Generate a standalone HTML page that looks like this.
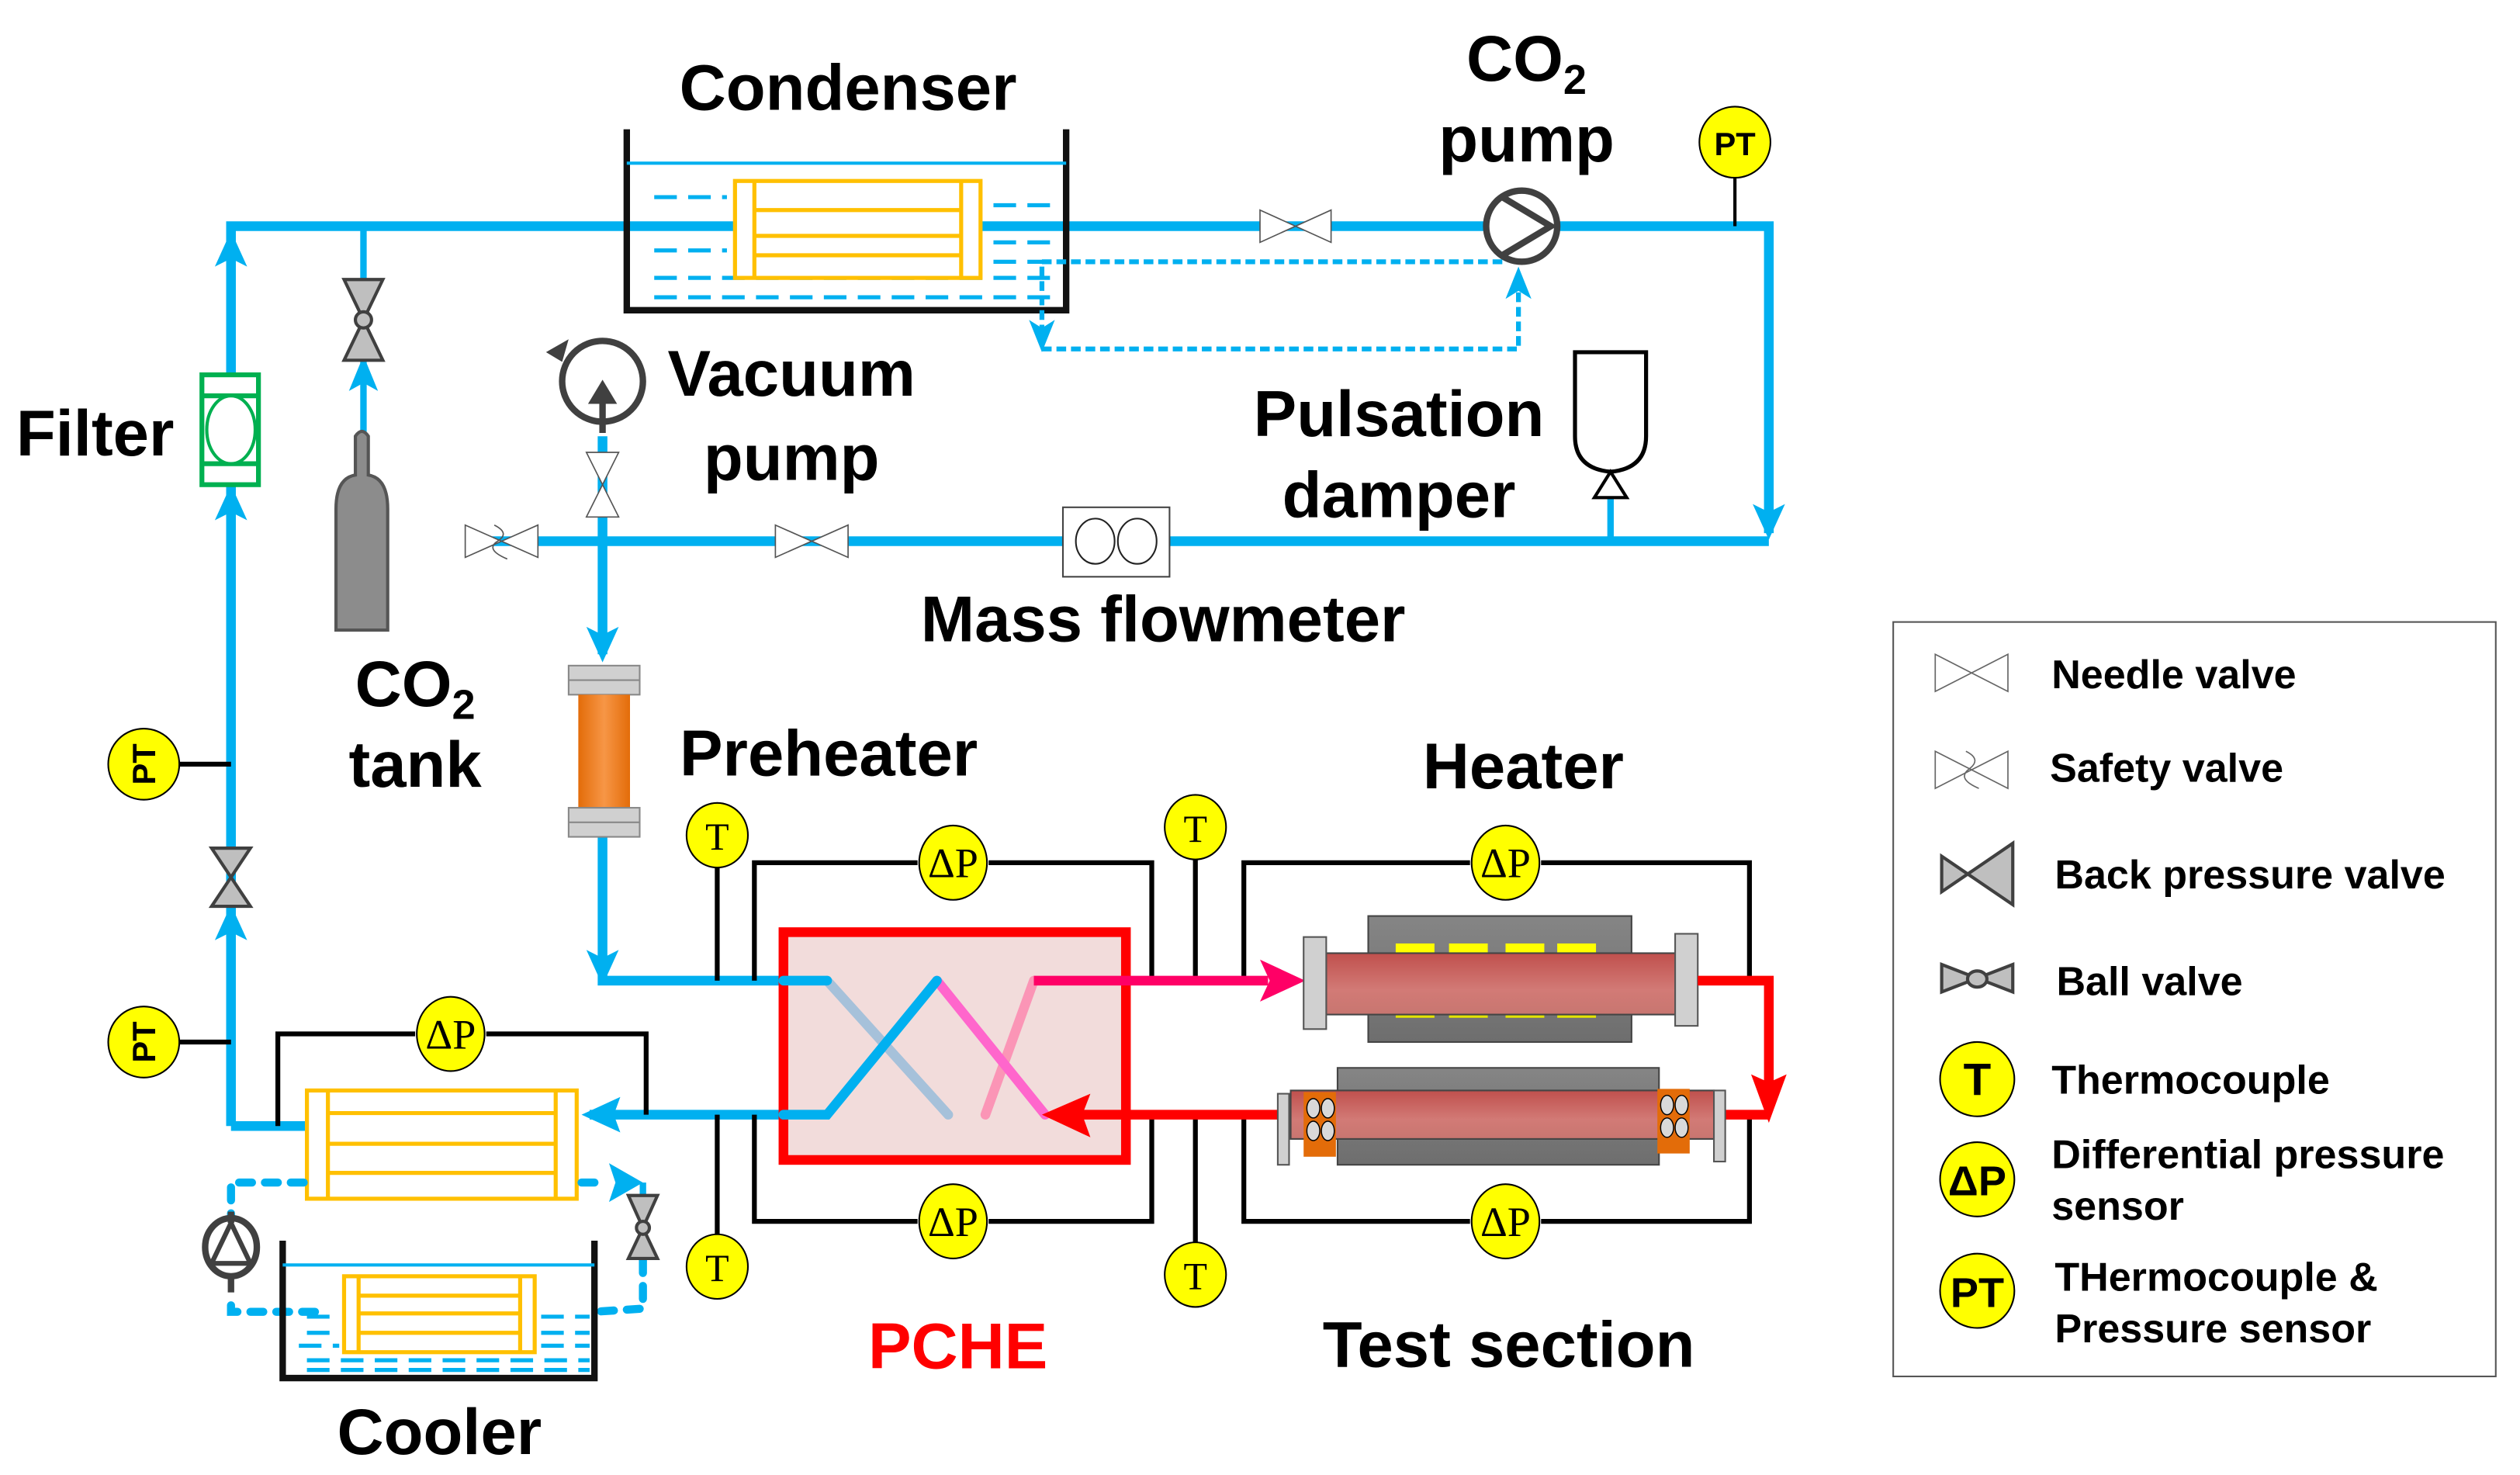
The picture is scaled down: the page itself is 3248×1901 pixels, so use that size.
<!DOCTYPE html>
<html><head><meta charset="utf-8"><style>
html,body{margin:0;padding:0;background:#fff}
svg{display:block}
text{font-family:"Liberation Sans",Arial,sans-serif;font-weight:bold;fill:#000}
.s{font-family:"Liberation Serif",serif;font-weight:normal}
</style></head><body>
<svg width="3248" height="1901" viewBox="0 0 1560 913" xmlns="http://www.w3.org/2000/svg">
<defs>
<linearGradient id="tube" x1="0" y1="0" x2="0" y2="1"><stop offset="0" stop-color="#c0504d"/><stop offset="0.6" stop-color="#d27a76"/><stop offset="1" stop-color="#c87670"/></linearGradient>
<linearGradient id="gray" x1="0" y1="0" x2="0" y2="1"><stop offset="0" stop-color="#858585"/><stop offset="1" stop-color="#6e6e6e"/></linearGradient>
<linearGradient id="orng" x1="0" y1="0" x2="1" y2="0"><stop offset="0" stop-color="#e36c09"/><stop offset="0.5" stop-color="#f79646"/><stop offset="1" stop-color="#e36c09"/></linearGradient>
</defs>

<g stroke="#00b0f0" stroke-width="6" fill="none">
<polyline points="143,697 143,140 455,140"/>
<polyline points="607,140 920,140"/>
<polyline points="965,140 1095,140 1095,330"/>
<line x1="1095" y1="335" x2="290" y2="335"/>
<line x1="373" y1="270" x2="373" y2="405"/>
<polyline points="373,518 373,607 485,607"/>
<polyline points="485,690 365,690"/>
<polyline points="190,697 143,697"/>
<line x1="997" y1="335" x2="997" y2="300" stroke-width="4"/>
<line x1="225" y1="140" x2="225" y2="175" stroke-width="4"/>
<line x1="225" y1="215" x2="225" y2="270" stroke-width="4"/>
</g>
<g fill="#00b0f0">
<path d="M143,143 L133,165 L143,160 L153,165 Z"/>
<path d="M143,300 L133,322 L143,317 L153,322 Z"/>
<path d="M143,560 L133,582 L143,577 L153,582 Z"/>
<path d="M225,220 L216,242 L225,237 L234,242 Z"/>
<path d="M1095,334 L1085,312 L1095,317 L1105,312 Z"/>
<path d="M373,410 L363,388 L373,393 L383,388 Z"/>
<path d="M373,610 L363,588 L373,593 L383,588 Z"/>
<path d="M360,690 L384,679 L380,690 L384,701 Z"/>
</g>

<polyline points="388,80 388,192 660,192 660,80" fill="none" stroke="#111" stroke-width="4"/>
<line x1="388" y1="101" x2="660" y2="101" stroke="#00b0f0" stroke-width="2"/>
<g stroke="#00b0f0" stroke-width="2.5" stroke-dasharray="14,7">
<line x1="405" y1="122" x2="450" y2="122"/><line x1="615" y1="127" x2="655" y2="127"/>
<line x1="405" y1="155" x2="450" y2="155"/><line x1="615" y1="150" x2="655" y2="150"/>
<line x1="615" y1="162" x2="655" y2="162"/>
<line x1="405" y1="172" x2="655" y2="172"/><line x1="405" y1="184" x2="655" y2="184"/>
</g>
<g stroke="#ffc000" stroke-width="2.5" fill="#fff">
<rect x="455" y="112" width="152" height="60"/>
<line x1="467" y1="112" x2="467" y2="172"/><line x1="595" y1="112" x2="595" y2="172"/>
<line x1="467" y1="130" x2="595" y2="130"/><line x1="467" y1="146" x2="595" y2="146"/><line x1="467" y1="158" x2="595" y2="158"/>
</g>
<text x="525" y="68" font-size="40" text-anchor="middle">Condenser</text>

<g stroke="#00b0f0" stroke-width="3" fill="none" stroke-dasharray="6,3">
<polyline points="645,162 930,162"/>
<polyline points="645,165 645,205"/>
<polyline points="645,216 940,216 940,180"/>
</g>
<path d="M645,218 L637,198 L645,203 L653,198 Z" fill="#00b0f0"/>
<path d="M940,165 L932,185 L940,180 L948,185 Z" fill="#00b0f0"/>

<g stroke="#555" stroke-width="0.8" fill="#fff"><path d="M780,130 L824,150 L824,130 L780,150 Z"/></g>
<circle cx="942" cy="140" r="22" fill="#fff" stroke="#404040" stroke-width="4"/>
<path d="M930,122 L960,140 L930,158" fill="none" stroke="#404040" stroke-width="4"/>
<text x="945" y="50" font-size="40" text-anchor="middle">CO<tspan font-size="26" dy="8">2</tspan></text>
<text x="945" y="100" font-size="40" text-anchor="middle">pump</text>
<line x1="1074" y1="100" x2="1074" y2="140" stroke="#000" stroke-width="2"/>
<ellipse cx="1074" cy="88" rx="22" ry="22" fill="#ffff00" stroke="#000" stroke-width="1"/>
<text x="1074" y="96" font-size="20" text-anchor="middle" font-weight="normal">PT</text>

<rect x="125" y="232" width="35" height="68" fill="#fff" stroke="#00b050" stroke-width="3"/>
<line x1="125" y1="245" x2="160" y2="245" stroke="#00b050" stroke-width="3"/>
<line x1="125" y1="287" x2="160" y2="287" stroke="#00b050" stroke-width="3"/>
<ellipse cx="143" cy="266" rx="15" ry="21" fill="#fff" stroke="#00b050" stroke-width="2"/>
<text x="10" y="282" font-size="40">Filter</text>

<g fill="#bfbfbf" stroke="#404040" stroke-width="2">
<path d="M213,173 L237,173 L225,198 Z"/><path d="M213,223 L237,223 L225,198 Z"/><circle cx="225" cy="198" r="5"/>
</g>
<path d="M208,390 L208,315 Q208,296 220,294 L220,270 Q224,264 228,270 L228,294 Q240,296 240,315 L240,390 Z" fill="#8c8c8c" stroke="#555" stroke-width="2"/>
<text x="257" y="437" font-size="40" text-anchor="middle">CO<tspan font-size="26" dy="8">2</tspan></text>
<text x="257" y="487" font-size="40" text-anchor="middle">tank</text>

<circle cx="373" cy="236" r="25" fill="none" stroke="#404040" stroke-width="4"/>
<path d="M373,268 L373,245" stroke="#404040" stroke-width="4"/>
<path d="M364,250 L373,235 L382,250 Z" fill="#404040"/>
<path d="M338,218 L352,210 L348,224 Z" fill="#404040"/>
<path d="M363,280 L383,280 L373,300 Z M363,320 L383,320 L373,300 Z" fill="#fff" stroke="#555" stroke-width="0.8"/>
<text x="490" y="245" font-size="40" text-anchor="middle">Vacuum</text>
<text x="490" y="297" font-size="40" text-anchor="middle">pump</text>

<path d="M288,325 L333,345 L333,325 L288,345 Z" fill="#fff" stroke="#555" stroke-width="0.8"/>
<path d="M306,325 Q316,330 308,335 Q300,340 314,346" fill="none" stroke="#555" stroke-width="0.8"/>
<path d="M480,325 L525,345 L525,325 L480,345 Z" fill="#fff" stroke="#555" stroke-width="0.8"/>
<rect x="658" y="314" width="66" height="43" fill="#fff" stroke="#444" stroke-width="1"/>
<ellipse cx="678" cy="335" rx="12" ry="14" fill="#fff" stroke="#222" stroke-width="1"/>
<ellipse cx="704" cy="335" rx="12" ry="14" fill="#fff" stroke="#222" stroke-width="1"/>
<text x="720" y="397" font-size="40" text-anchor="middle">Mass flowmeter</text>
<path d="M975,218 L1019,218 L1019,270 Q1019,290 997,292 Q975,290 975,270 Z" fill="#fff" stroke="#000" stroke-width="2.5"/>
<path d="M997,292 L987,308 L1007,308 Z" fill="#fff" stroke="#000" stroke-width="2"/>
<text x="866" y="270" font-size="40" text-anchor="middle">Pulsation</text>
<text x="866" y="320" font-size="40" text-anchor="middle">damper</text>

<rect x="352" y="412" width="44" height="18" fill="#d0d0d0" stroke="#888" stroke-width="1"/>
<line x1="352" y1="421" x2="396" y2="421" stroke="#888"/>
<rect x="358" y="430" width="32" height="70" fill="url(#orng)"/>
<rect x="352" y="500" width="44" height="18" fill="#d0d0d0" stroke="#888" stroke-width="1"/>
<line x1="352" y1="509" x2="396" y2="509" stroke="#888"/>
<text x="513" y="480" font-size="40" text-anchor="middle">Preheater</text>

<g stroke="#000" stroke-width="3" fill="none">
<polyline points="568,534 467,534 467,607"/><polyline points="612,534 713,534 713,607"/>
<polyline points="568,756 467,756 467,690"/><polyline points="612,756 713,756 713,690"/>
<polyline points="910,534 770,534 770,607"/><polyline points="954,534 1083,534 1083,607"/>
<polyline points="910,756 770,756 770,690"/><polyline points="954,756 1083,756 1083,690"/>
<line x1="444" y1="530" x2="444" y2="607"/><line x1="740" y1="525" x2="740" y2="607"/>
<line x1="444" y1="690" x2="444" y2="770"/><line x1="740" y1="690" x2="740" y2="775"/>
<polyline points="257,640 172,640 172,697"/><polyline points="301,640 400,640 400,690"/>
<line x1="110" y1="473" x2="143" y2="473"/><line x1="110" y1="645" x2="143" y2="645"/>
</g>

<rect x="485" y="577" width="212" height="141" fill="#f2dcdb" stroke="#ff0000" stroke-width="6"/>
<g stroke-width="6" stroke-linecap="round">
<line x1="512" y1="607" x2="587" y2="690" stroke="#a6c1da"/>
<line x1="640" y1="607" x2="610" y2="690" stroke="#fb95b6"/>
<line x1="580" y1="607" x2="647" y2="690" stroke="#ff66cc"/>
<polyline points="485,690 512,690 580,607" fill="none" stroke="#00b0f0"/>
<line x1="485" y1="607" x2="512" y2="607" stroke="#00b0f0"/>
</g>
<line x1="640" y1="607" x2="785" y2="607" stroke="#ff0066" stroke-width="6"/>
<path d="M808,607 L780,594 L786,607 L780,620 Z" fill="#ff0066"/>
<line x1="795" y1="690" x2="670" y2="690" stroke="#ff0000" stroke-width="6"/>
<path d="M645,690 L675,677 L670,690 L675,704 Z" fill="#ff0000"/>
<text x="593" y="847" font-size="40" text-anchor="middle" style="fill:#ff0000">PCHE</text>

<rect x="847" y="567" width="163" height="78" fill="url(#gray)" stroke="#444" stroke-width="1"/>
<g fill="#ffff00"><rect x="864" y="584" width="24" height="12"/><rect x="897" y="584" width="24" height="12"/><rect x="932" y="584" width="24" height="12"/><rect x="964" y="584" width="24" height="12"/></g>
<g fill="#e3e300"><rect x="864" y="618" width="24" height="12"/><rect x="897" y="618" width="24" height="12"/><rect x="932" y="618" width="24" height="12"/><rect x="964" y="618" width="24" height="12"/></g>
<rect x="821" y="590" width="218" height="38" fill="url(#tube)" stroke="#444" stroke-width="1"/>
<rect x="807" y="580" width="14" height="57" fill="#d0d0d0" stroke="#555" stroke-width="1"/>
<rect x="1037" y="578" width="14" height="57" fill="#d0d0d0" stroke="#555" stroke-width="1"/>
<polyline points="1051,607 1095,607 1095,670" fill="none" stroke="#ff0000" stroke-width="6"/>
<path d="M1095,695 L1084,665 L1095,670 L1106,665 Z" fill="#ff0000"/>
<line x1="1095" y1="690" x2="1062" y2="690" stroke="#ff0000" stroke-width="6"/>
<text x="943" y="488" font-size="40" text-anchor="middle">Heater</text>

<rect x="828" y="661" width="199" height="60" fill="url(#gray)" stroke="#444" stroke-width="1"/>
<rect x="799" y="675" width="262" height="30" fill="url(#tube)" stroke="#444" stroke-width="1"/>
<rect x="791" y="677" width="7" height="44" fill="#d0d0d0" stroke="#555" stroke-width="1"/>
<rect x="1061" y="675" width="7" height="44" fill="#d0d0d0" stroke="#555" stroke-width="1"/>
<rect x="807" y="676" width="20" height="40" fill="#e36c09"/>
<rect x="1026" y="674" width="20" height="40" fill="#e36c09"/>
<g fill="#d9d9d9" stroke="#000" stroke-width="0.7">
<ellipse cx="813" cy="686" rx="4" ry="6"/><ellipse cx="822" cy="686" rx="4" ry="6"/><ellipse cx="813" cy="700" rx="4" ry="6"/><ellipse cx="822" cy="700" rx="4" ry="6"/>
<ellipse cx="1032" cy="684" rx="4" ry="6"/><ellipse cx="1041" cy="684" rx="4" ry="6"/><ellipse cx="1032" cy="698" rx="4" ry="6"/><ellipse cx="1041" cy="698" rx="4" ry="6"/>
</g>
<text x="934" y="846" font-size="40" text-anchor="middle">Test section</text>

<g fill="#ffff00" stroke="#000" stroke-width="1">
<ellipse cx="590" cy="534" rx="21" ry="23"/><ellipse cx="590" cy="756" rx="21" ry="23"/>
<ellipse cx="932" cy="534" rx="21" ry="23"/><ellipse cx="932" cy="756" rx="21" ry="23"/>
<ellipse cx="279" cy="640" rx="21" ry="23"/>
<ellipse cx="444" cy="517" rx="19" ry="20"/><ellipse cx="740" cy="512" rx="19" ry="20"/>
<ellipse cx="444" cy="784" rx="19" ry="20"/><ellipse cx="740" cy="789" rx="19" ry="20"/>
<ellipse cx="89" cy="473" rx="22" ry="22"/><ellipse cx="89" cy="645" rx="22" ry="22"/>
</g>
<g font-size="26" text-anchor="middle">
<text class="s" x="590" y="543">ΔP</text><text class="s" x="590" y="765">ΔP</text>
<text class="s" x="932" y="543">ΔP</text><text class="s" x="932" y="765">ΔP</text>
<text class="s" x="279" y="649">ΔP</text>
<text class="s" x="444" y="526" font-size="24">T</text><text class="s" x="740" y="521" font-size="24">T</text>
<text class="s" x="444" y="793" font-size="24">T</text><text class="s" x="740" y="798" font-size="24">T</text>
</g>
<text x="89" y="480" font-size="20" font-weight="normal" text-anchor="middle" transform="rotate(-90 89 473)">PT</text>
<text x="89" y="652" font-size="20" font-weight="normal" text-anchor="middle" transform="rotate(-90 89 645)">PT</text>

<g fill="#bfbfbf" stroke="#404040" stroke-width="2">
<path d="M131,525 L155,525 L143,543 Z"/><path d="M131,561 L155,561 L143,543 Z"/>
</g>

<g stroke="#ffc000" stroke-width="2.5" fill="#fff">
<rect x="190" y="675" width="167" height="67"/>
<line x1="203" y1="675" x2="203" y2="742"/><line x1="344" y1="675" x2="344" y2="742"/>
<line x1="203" y1="689" x2="344" y2="689"/><line x1="203" y1="708" x2="344" y2="708"/><line x1="203" y1="726" x2="344" y2="726"/>
</g>
<g stroke="#00b0f0" stroke-width="5" fill="none" stroke-dasharray="8,8" stroke-linecap="round">
<polyline points="188,732 143,732 143,755"/>
<polyline points="143,808 143,812 200,812"/>
<polyline points="360,732 368,732"/>
<polyline points="398,780 398,810 368,812"/>
</g>
<path d="M398,732 L377,720 L381,732 L377,744 Z" fill="#00b0f0"/>
<line x1="398" y1="732" x2="398" y2="740" stroke="#00b0f0" stroke-width="4"/>
<g fill="#bfbfbf" stroke="#404040" stroke-width="2">
<path d="M389,740 L407,740 L398,760 Z"/><path d="M389,779 L407,779 L398,760 Z"/><circle cx="398" cy="760" r="4"/>
</g>
<ellipse cx="143" cy="772" rx="16" ry="18" fill="#fff" stroke="#404040" stroke-width="4"/>
<path d="M131,782 L143,757 L155,782 Z" fill="none" stroke="#404040" stroke-width="3"/>
<line x1="143" y1="750" x2="143" y2="757" stroke="#404040" stroke-width="4"/>
<line x1="143" y1="790" x2="143" y2="800" stroke="#404040" stroke-width="4"/>
<polyline points="175,768 175,853 368,853 368,768" fill="none" stroke="#111" stroke-width="4"/>
<line x1="175" y1="783" x2="368" y2="783" stroke="#00b0f0" stroke-width="2"/>
<g stroke="#00b0f0" stroke-width="2.5" stroke-dasharray="14,7">
<line x1="190" y1="815" x2="210" y2="815"/><line x1="335" y1="815" x2="365" y2="815"/>
<line x1="190" y1="825" x2="210" y2="825"/><line x1="335" y1="825" x2="365" y2="825"/>
<line x1="185" y1="833" x2="210" y2="833"/><line x1="335" y1="833" x2="365" y2="833"/>
<line x1="190" y1="842" x2="365" y2="842"/><line x1="190" y1="848" x2="365" y2="848"/>
</g>
<g stroke="#ffc000" stroke-width="2.5" fill="#fff">
<rect x="213" y="790" width="118" height="47"/>
<line x1="222" y1="790" x2="222" y2="837"/><line x1="322" y1="790" x2="322" y2="837"/>
<line x1="222" y1="802" x2="322" y2="802"/><line x1="222" y1="813" x2="322" y2="813"/><line x1="222" y1="825" x2="322" y2="825"/>
</g>
<text x="272" y="900" font-size="40" text-anchor="middle">Cooler</text>

<rect x="1172" y="385" width="373" height="467" fill="#fff" stroke="#555" stroke-width="1"/>
<path d="M1198,405 L1243,428 L1243,405 L1198,428 Z" fill="#fff" stroke="#666" stroke-width="0.8"/>
<path d="M1198,465 L1243,488 L1243,465 L1198,488 Z" fill="#fff" stroke="#666" stroke-width="0.8"/>
<path d="M1217,465 Q1227,470 1219,476 Q1211,482 1225,488" fill="none" stroke="#666" stroke-width="0.8"/>
<path d="M1202,530 L1202,552 L1246,522 L1246,560 Z" fill="#bfbfbf" stroke="#404040" stroke-width="2"/>
<path d="M1202,597 L1202,614 L1246,597 L1246,614 Z" fill="#bfbfbf" stroke="#404040" stroke-width="2"/>
<ellipse cx="1224" cy="606" rx="6" ry="5" fill="#bfbfbf" stroke="#404040" stroke-width="2"/>
<g fill="#ffff00" stroke="#000" stroke-width="1">
<ellipse cx="1224" cy="668" rx="23" ry="23"/><ellipse cx="1224" cy="730" rx="23" ry="23"/><ellipse cx="1224" cy="799" rx="23" ry="23"/>
</g>
<text x="1224" y="678" font-size="28" font-weight="normal" text-anchor="middle">T</text>
<text x="1224" y="740" font-size="26" font-weight="normal" text-anchor="middle">ΔP</text>
<text x="1224" y="809" font-size="26" font-weight="normal" text-anchor="middle">PT</text>
<g font-size="25">
<text x="1270" y="426">Needle valve</text>
<text x="1269" y="484">Safety valve</text>
<text x="1272" y="550">Back pressure valve</text>
<text x="1273" y="616">Ball valve</text>
<text x="1270" y="677">Thermocouple</text>
<text x="1270" y="723">Differential pressure</text>
<text x="1270" y="755">sensor</text>
<text x="1272" y="799">THermocouple &amp;</text>
<text x="1272" y="831">Pressure sensor</text>
</g>
</svg>
</body></html>
